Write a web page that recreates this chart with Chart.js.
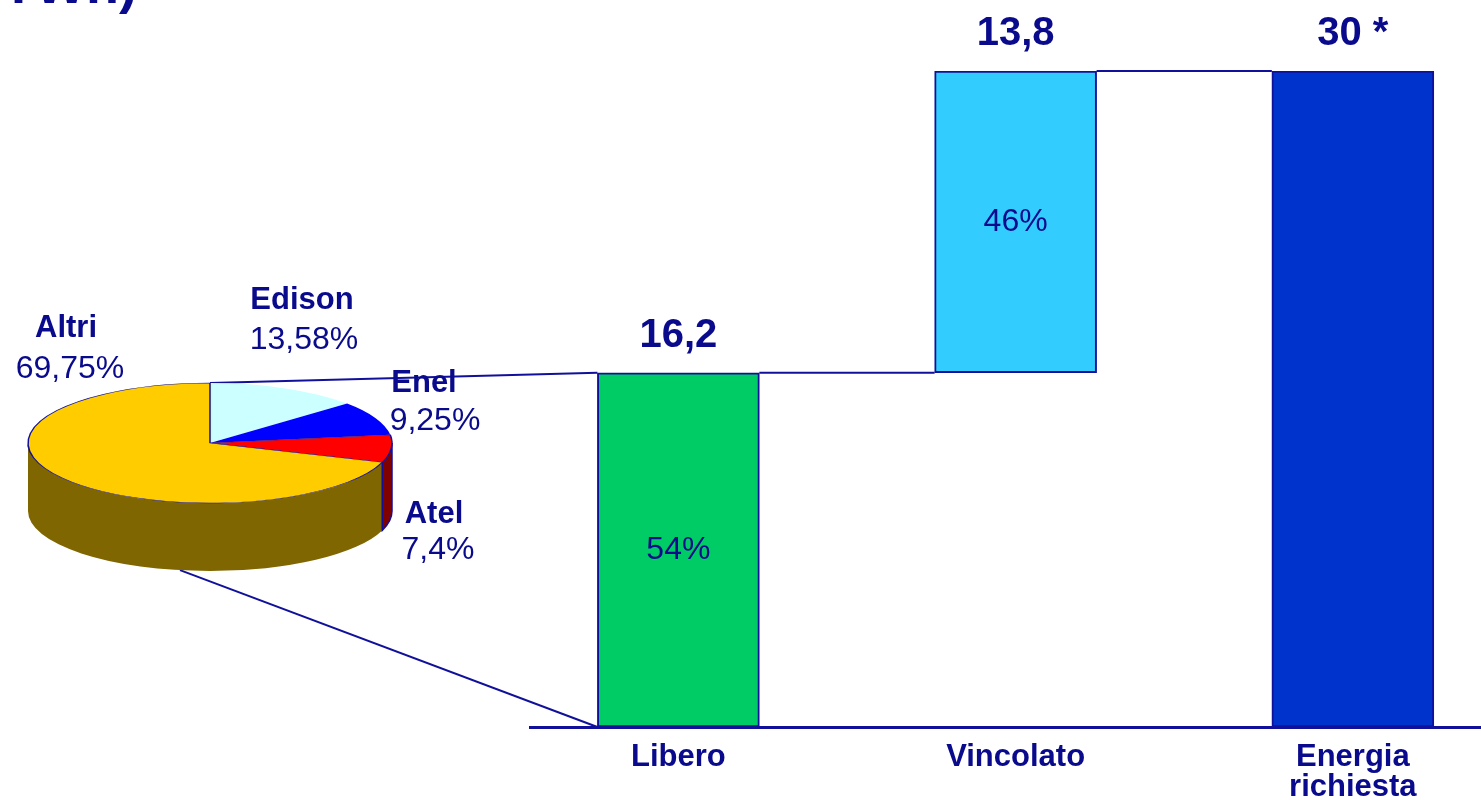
<!DOCTYPE html>
<html><head><meta charset="utf-8">
<script src="https://cdn.jsdelivr.net/npm/chart.js@4"></script>
<style>
html,body{margin:0;padding:0;background:#fff;overflow:hidden;}
#wrap{position:relative;width:1481px;height:800px;}
canvas{position:absolute;left:0;top:0;}
</style></head><body>
<div id="wrap"><canvas id="bars" width="1481" height="800"></canvas><canvas id="pie" width="1481" height="800"></canvas></div>
<script>
// ---- data ----
const unitLabel = 'TWh)';
const categories = [['Libero'], ['Vincolato'], ['Energia', 'richiesta']];
const values = [16.2, 13.8, 30];
const valueNotes = ['', '', ' *'];
const shares = [54, 46, null];
const barColors = ['#00CC66', '#33CCFF', '#0033CC'];
const pieLabels = ['Edison', 'Enel', 'Atel', 'Altri'];
const pieShares = [13.58, 9.25, 7.4, 69.75];
const pieColors = ['#CCFFFF', '#0000FF', '#FF0000', '#FFCC00'];
const pieSideColors = ['#6A9A9A', '#000080', '#800000', '#806600'];

// ---- helpers / layout ----
const NAVY = '#0A0A8C';
const LINE = '#10109A';
const FONT = '"Liberation Sans", Arial, sans-serif';
const fmt = v => String(v).replace('.', ',');
const ELL = 60 / 182;   // vertical squash of pie
const DEPTH = 68;       // pie thickness in px
const pieLabelOffsets = [[92, -143, 94, -103], [214, -60, 225, -22], [224, 71, 228, 107], [-144, -115, -140, -74]];

// waterfall ranges built from values
const ranges = [];
let cum = 0;
values.forEach((v, i) => {
  if (i === values.length - 1) { ranges.push([0, v]); }
  else { ranges.push([cum, cum + v]); cum += v; }
});

// ---- 3D pie ----
const pie3d = {
  id: 'pie3d',
  beforeDatasetsDraw(chart) {
    const ctx = chart.ctx;
    const arcs = chart.getDatasetMeta(0).data;
    const cx = arcs[0].x, cy = arcs[0].y, r = arcs[0].outerRadius, ry = r * ELL;
    arcs.forEach((a, i) => {
      const s = Math.max(a.startAngle, 0), e = Math.min(a.endAngle, Math.PI);
      if (e <= s) return;
      ctx.beginPath();
      ctx.ellipse(cx, cy, r, ry, 0, s, e, false);
      ctx.ellipse(cx, cy + DEPTH, r, ry, 0, e, s, true);
      ctx.closePath();
      ctx.fillStyle = pieSideColors[i];
      ctx.fill();
      if (i !== arcs.length - 1) {
        ctx.strokeStyle = LINE; ctx.lineWidth = 1.5; ctx.stroke();
      } else {
        ctx.beginPath();
        ctx.moveTo(cx + r * Math.cos(s), cy + ry * Math.sin(s));
        ctx.lineTo(cx + r * Math.cos(s), cy + ry * Math.sin(s) + DEPTH);
        ctx.strokeStyle = LINE; ctx.lineWidth = 1.5; ctx.stroke();
      }
    });
    ctx.save();
    ctx.translate(cx, cy); ctx.scale(1, ELL); ctx.translate(-cx, -cy);
  },
  afterDatasetsDraw(chart) {
    const ctx = chart.ctx;
    ctx.restore();
    const a0 = chart.getDatasetMeta(0).data[0];
    const cx = a0.x, cy = a0.y;
    ctx.save();
    ctx.fillStyle = NAVY; ctx.textAlign = 'center'; ctx.textBaseline = 'middle';
    pieLabels.forEach((lab, i) => {
      const o = pieLabelOffsets[i];
      ctx.font = 'bold 31px ' + FONT;
      ctx.fillText(lab, cx + o[0], cy + o[1]);
      ctx.font = '32px ' + FONT;
      ctx.fillText(fmt(pieShares[i]) + '%', cx + o[2], cy + o[3]);
    });
    ctx.restore();
  }
};

const pieChart = new Chart(document.getElementById('pie'), {
  type: 'pie',
  data: {
    labels: pieLabels,
    datasets: [{
      data: pieShares,
      backgroundColor: pieColors,
      borderColor: LINE,
      borderWidth: [0, 0, 1.5, 1.5],
      radius: 182
    }]
  },
  options: {
    responsive: false, animation: false, events: [],
    layout: { padding: { left: 10, right: 1071, top: 243, bottom: 157 } },
    plugins: { legend: { display: false }, tooltip: { enabled: false } }
  },
  plugins: [pie3d]
});

// ---- waterfall bars ----
const waterfall = {
  id: 'waterfall',
  afterDatasetsDraw(chart) {
    const ctx = chart.ctx;
    const els = chart.getDatasetMeta(0).data;
    const ys = chart.scales.y;
    ctx.save();
    ctx.strokeStyle = LINE; ctx.lineWidth = 2;
    for (let i = 0; i < els.length - 1; i++) {
      const a = els[i], b = els[i + 1];
      const yj = ys.getPixelForValue(ranges[i][1]);
      ctx.beginPath();
      ctx.moveTo(a.x + a.width / 2, yj);
      ctx.lineTo(b.x - b.width / 2, yj);
      ctx.stroke();
    }
    // pie-to-bar links
    const p = pieChart.getDatasetMeta(0).data[0];
    const r = p.outerRadius, ry = r * ELL;
    const first = els[0];
    const left = first.x - first.width / 2;
    ctx.beginPath();
    ctx.moveTo(p.x, p.y - ry);
    ctx.lineTo(left, first.y);
    ctx.stroke();
    const dx = -30;
    ctx.beginPath();
    ctx.moveTo(p.x + dx, p.y + DEPTH + ry * Math.sqrt(1 - (dx / r) * (dx / r)));
    ctx.lineTo(left, first.base);
    ctx.stroke();

    ctx.fillStyle = NAVY; ctx.textAlign = 'center';
    ctx.textBaseline = 'alphabetic';
    ctx.font = 'bold 40px ' + FONT;
    els.forEach((el, i) => {
      ctx.fillText(fmt(values[i]) + valueNotes[i], el.x, Math.min(el.y, el.base) - 26);
    });
    ctx.textBaseline = 'middle';
    ctx.font = '32px ' + FONT;
    els.forEach((el, i) => {
      if (shares[i] != null) ctx.fillText(shares[i] + '%', el.x, (el.y + el.base) / 2);
    });
    // cut-off unit label at top-left
    ctx.textAlign = 'left'; ctx.textBaseline = 'alphabetic';
    ctx.font = 'bold 54px ' + FONT;
    ctx.fillText(unitLabel, 2, 3);
    ctx.restore();
  }
};

new Chart(document.getElementById('bars'), {
  type: 'bar',
  data: {
    datasets: [{
      data: ranges.map((rg, i) => ({ x: i, y: rg })),
      backgroundColor: barColors,
      borderColor: LINE,
      borderWidth: 2,
      borderSkipped: false,
      barThickness: 162
    }]
  },
  options: {
    responsive: false, animation: false, events: [],
    layout: { padding: { left: 530, right: 0, top: 71, bottom: 0 } },
    plugins: { legend: { display: false }, tooltip: { enabled: false } },
    scales: {
      x: {
        type: 'linear', min: -0.44, max: 2.38, offset: false,
        grid: { display: false },
        border: { display: true, color: LINE, width: 3 },
        afterBuildTicks: s => { s.ticks = categories.map((c, i) => ({ value: i })); },
        afterFit: s => { s.height = 73; },
        ticks: {
          callback: v => categories[v],
          color: NAVY, padding: 7, maxRotation: 0, autoSkip: false,
          font: { family: FONT, size: 31, weight: 'bold', lineHeight: 0.98 }
        }
      },
      y: { display: false, min: 0, max: 30 }
    }
  },
  plugins: [waterfall]
});
</script>
</body></html>
